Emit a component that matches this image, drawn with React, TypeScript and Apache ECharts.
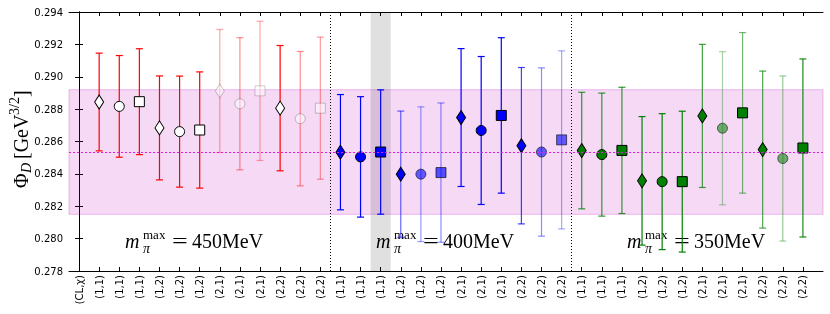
import React, { useEffect, useRef } from 'react';
import * as echarts from 'echarts';

const subLabels = ['(1,1)', '(1,1)', '(1,1)', '(1,2)', '(1,2)', '(1,2)', '(2,1)', '(2,1)', '(2,1)', '(2,2)', '(2,2)', '(2,2)'];
const categories = ['(CL,χ)', ...subLabels, ...subLabels, ...subLabels];

const markerShapes = ['diamond', 'circle', 'rect'];

const redValues = [0.28844, 0.28817, 0.28846, 0.28684, 0.28661, 0.28671, 0.28912, 0.28833, 0.28913, 0.28806, 0.28741, 0.28806];
const redErrors = [0.00302, 0.00314, 0.00327, 0.00321, 0.00343, 0.00359, 0.0038, 0.00408, 0.0043, 0.00387, 0.00415, 0.00439];
const redLineAlphas = [1, 1, 1, 1, 1, 1, 0.35, 0.45, 0.35, 1, 0.45, 0.4];
const redMarkerAlphas = [1, 1, 1, 1, 1, 1, 0.4, 0.45, 0.4, 1, 0.45, 0.45];

const blueValues = [0.28534, 0.28505, 0.28535, 0.28398, 0.28398, 0.28408, 0.28748, 0.28668, 0.28761, 0.28574, 0.28535, 0.2861];
const blueErrors = [0.00356, 0.00372, 0.00384, 0.0039, 0.00416, 0.0043, 0.00426, 0.00457, 0.0048, 0.00483, 0.0052, 0.0055];
const blueLineAlphas = [1, 1, 1, 0.6, 0.4, 0.45, 1, 1, 1, 0.75, 0.45, 0.35];
const blueMarkerAlphas = [1, 1, 1, 1, 0.6, 0.65, 1, 1, 1, 1, 0.6, 0.6];

const greenValues = [0.28544, 0.28519, 0.28545, 0.28357, 0.28352, 0.28352, 0.28758, 0.28682, 0.28777, 0.2855, 0.28495, 0.2856];
const greenErrors = [0.0036, 0.0038, 0.0039, 0.00397, 0.0042, 0.00435, 0.00442, 0.00473, 0.00496, 0.00485, 0.0051, 0.0055];
const greenLineAlphas = [0.8, 0.8, 0.8, 1, 1, 1, 0.75, 0.35, 0.55, 0.7, 0.4, 0.9];
const greenMarkerAlphas = [1, 1, 1, 1, 1, 1, 1, 0.55, 1, 1, 0.55, 1];

const bandCenter = 0.28535;
const bandLow = 0.2815;
const bandHigh = 0.2892;
const groupSeparators = [12.5, 24.5];
const highlightRange = [14.5, 15.5];

const groupLabels = ['450MeV', '400MeV', '350MeV'];
const groupLabelX = [125, 376, 627];

function rgba(hex: string, a: number) {
  const r = parseInt(hex.slice(1, 3), 16);
  const g = parseInt(hex.slice(3, 5), 16);
  const b = parseInt(hex.slice(5, 7), 16);
  return `rgba(${r},${g},${b},${a})`;
}

type Pt = { x: number; y: number; e: number; color: string; la: number; ma: number; shape: string; hollow: boolean };

function buildPoints(): Pt[] {
  const groups = [
    { v: redValues, e: redErrors, la: redLineAlphas, ma: redMarkerAlphas, c: '#ff0000', hollow: true },
    { v: blueValues, e: blueErrors, la: blueLineAlphas, ma: blueMarkerAlphas, c: '#0000ff', hollow: false },
    { v: greenValues, e: greenErrors, la: greenLineAlphas, ma: greenMarkerAlphas, c: '#008000', hollow: false },
  ];
  const pts: Pt[] = [];
  groups.forEach((g, gi) => {
    g.v.forEach((val, i) => {
      pts.push({
        x: 1 + gi * 12 + i,
        y: val,
        e: g.e[i],
        color: g.c,
        la: g.la[i],
        ma: g.ma[i],
        shape: markerShapes[i % 3],
        hollow: g.hollow,
      });
    });
  });
  return pts;
}

export default function App() {
  const ref = useRef<HTMLDivElement>(null);
  useEffect(() => {
    if (!ref.current) return;
    const chart = echarts.init(ref.current, null, { renderer: 'svg' });
    const pts = buildPoints();
    const tickVals = categories.map((_, i) => i);
    const serif = 'Liberation Serif';

    const annot: any[] = [];
    groupLabels.forEach((lab, i) => {
      const x0 = groupLabelX[i];
      annot.push(
        { type: 'text', x: x0, y: 241, style: { text: 'm', font: `italic 20px "${serif}"`, fill: '#000', verticalAlign: 'middle', align: 'left' } },
        { type: 'text', x: x0 + 18, y: 234.5, style: { text: 'max', font: `13px "${serif}"`, fill: '#000', verticalAlign: 'middle', align: 'left' } },
        { type: 'text', x: x0 + 18, y: 248, style: { text: 'π', font: `italic 14px "${serif}"`, fill: '#000', verticalAlign: 'middle', align: 'left' } },
        { type: 'text', x: x0 + 47, y: 241, scaleX: 1.4, style: { text: '=', font: `20px "${serif}"`, fill: '#000', verticalAlign: 'middle', align: 'left' } },
        { type: 'text', x: x0 + 67, y: 241, style: { text: lab, font: `20px "${serif}"`, fill: '#000', verticalAlign: 'middle', align: 'left' } },
      );
    });

    const yLabel = {
      type: 'group',
      x: 21,
      y: 188,
      rotation: Math.PI / 2,
      children: [
        { type: 'text', x: 0, y: 0, style: { text: 'Φ', font: `20px "${serif}"`, fill: '#000', verticalAlign: 'middle', align: 'left' } },
        { type: 'text', x: 15, y: 5, style: { text: 'D', font: `italic 14px "${serif}"`, fill: '#000', verticalAlign: 'middle', align: 'left' } },
        { type: 'text', x: 29, y: 0, style: { text: '[GeV', font: `20px "${serif}"`, fill: '#000', verticalAlign: 'middle', align: 'left' } },
        { type: 'text', x: 73, y: -7, style: { text: '3/2', font: `14px "${serif}"`, fill: '#000', verticalAlign: 'middle', align: 'left' } },
        { type: 'text', x: 91, y: 0, style: { text: ']', font: `20px "${serif}"`, fill: '#000', verticalAlign: 'middle', align: 'left' } },
      ],
    };

    const xMin = -0.5;
    const xMax = 37;

    chart.setOption({
      animation: false,
      grid: { left: 69, right: 7, top: 12, bottom: 43, containLabel: false },
      xAxis: [
        {
          type: 'value', min: xMin, max: xMax, position: 'bottom',
          axisLine: { show: true, lineStyle: { color: '#000', width: 1 } },
          axisTick: { show: true, inside: true, length: 4, customValues: tickVals, lineStyle: { color: '#000' } },
          axisLabel: {
            show: true, customValues: tickVals, rotate: 90, margin: 4,
            fontSize: 10, fontFamily: 'DejaVu Sans', color: '#000',
            formatter: (v: number) => categories[Math.round(v)] ?? '',
          },
          splitLine: { show: false },
        },
        {
          type: 'value', min: xMin, max: xMax, position: 'top',
          axisLine: { show: true, lineStyle: { color: '#000', width: 1 } },
          axisTick: { show: true, inside: true, length: 4, customValues: tickVals, lineStyle: { color: '#000' } },
          axisLabel: { show: false },
          splitLine: { show: false },
        },
      ],
      yAxis: [
        {
          type: 'value', min: 0.278, max: 0.294, interval: 0.002, position: 'left',
          axisLine: { show: true, lineStyle: { color: '#000', width: 1 } },
          axisTick: { show: true, inside: true, length: 4, lineStyle: { color: '#000' } },
          axisLabel: { fontSize: 10, fontFamily: 'DejaVu Sans', color: '#000', margin: 6, formatter: (v: number) => v.toFixed(3) },
          splitLine: { show: false },
        },
        {
          type: 'value', min: 0.278, max: 0.294, interval: 0.002, position: 'right',
          axisLine: { show: true, lineStyle: { color: '#000', width: 1 } },
          axisTick: { show: true, inside: true, length: 4, lineStyle: { color: '#000' } },
          axisLabel: { show: false },
          splitLine: { show: false },
        },
      ],
      series: [
        {
          type: 'line', xAxisIndex: 0, yAxisIndex: 0, data: [], z: 0, silent: true,
          markArea: {
            silent: true,
            data: [
              [{ yAxis: bandLow, itemStyle: { color: 'rgba(191,0,191,0.15)', borderColor: 'rgba(191,0,191,0.25)', borderWidth: 1 } }, { yAxis: bandHigh }],
              [{ xAxis: highlightRange[0], itemStyle: { color: 'rgba(0,0,0,0.12)', borderWidth: 0 } }, { xAxis: highlightRange[1] }],
            ],
          },
          markLine: {
            silent: true, symbol: 'none', label: { show: false }, precision: 6,
            lineStyle: { color: '#000', type: [1, 2], width: 1 },
            data: groupSeparators.map((s) => ({ xAxis: s })),
          },
        },
        {
          type: 'line', xAxisIndex: 0, yAxisIndex: 0, data: [], z: 1, silent: true,
          markLine: {
            silent: true, symbol: 'none', label: { show: false }, precision: 6,
            lineStyle: { color: '#e020e0', type: [2, 2], width: 1 },
            data: [{ yAxis: bandCenter }],
          },
        },
        {
          type: 'custom', xAxisIndex: 0, yAxisIndex: 0, z: 2, silent: true,
          data: pts.map((p) => [p.x, p.y, p.e]),
          renderItem: (params: any, api: any) => {
            const x = api.value(0), y = api.value(1), e = api.value(2);
            const top = api.coord([x, y + e]);
            const bot = api.coord([x, y - e]);
            const p = pts[params.dataIndex];
            const style = { stroke: rgba(p.color, p.la), lineWidth: 1.2, fill: 'none' };
            return {
              type: 'group',
              children: [
                { type: 'line', shape: { x1: top[0], y1: top[1], x2: bot[0], y2: bot[1] }, style },
                { type: 'line', shape: { x1: top[0] - 3.5, y1: top[1], x2: top[0] + 3.5, y2: top[1] }, style },
                { type: 'line', shape: { x1: bot[0] - 3.5, y1: bot[1], x2: bot[0] + 3.5, y2: bot[1] }, style },
              ],
            };
          },
        },
        {
          type: 'scatter', xAxisIndex: 0, yAxisIndex: 0, z: 3, silent: true,
          data: pts.map((p) => ({
            value: [p.x, p.y],
            symbol: p.shape,
            symbolSize: p.shape === 'diamond' ? [9, 14] : 10,
            itemStyle: {
              color: p.hollow ? '#ffffff' : rgba(p.color, p.ma),
              borderColor: rgba('#000000', p.ma),
              borderWidth: 1,
              opacity: p.hollow ? Math.max(p.ma, 0.5) : 1,
            },
          })),
        },
      ],
      graphic: [yLabel, ...annot],
    });
    return () => chart.dispose();
  }, []);
  return <div ref={ref} style={{ position: 'fixed', left: 0, top: 0, width: 830, height: 314 }} />;
}
